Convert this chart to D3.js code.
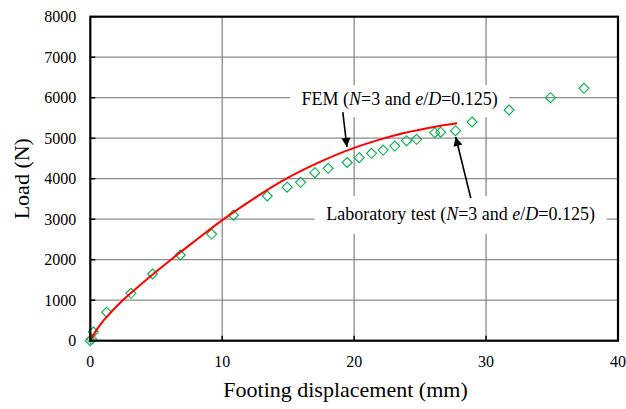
<!DOCTYPE html>
<meta charset="utf-8">
<style>
body {
  margin: 0;
  background: #fff;
  font-family: "Liberation Serif", "Times New Roman", serif;
}
.grid line {
  stroke: #8c8c8c;
  stroke-width: 1.3;
}
.tick-label {
  font-size: 16px;
  fill: #000;
}
.title {
  font-size: 22px;
  fill: #000;
}
.note {
  font-size: 18px;
  fill: #000;
}
</style>
<body>
<script src="https://cdn.jsdelivr.net/npm/d3@7"></script>
<script>

var width = 626,
    height = 409;

var margin = {left: 90.3, right: 8, top: 16.7, bottom: 68.3};

// laboratory test (green diamonds), [displacement mm, load N]
var labX = [0, 0.1, 0.23, 1.24, 3.08, 4.72, 6.82, 9.2, 10.85, 13.41, 14.92, 15.94, 17.02, 18.03, 19.47,
            20.38, 21.32, 22.2, 23.08, 23.97, 24.73, 26.11, 26.55, 27.68, 28.94, 31.74, 34.88, 37.42];
var labY = [0, 40, 215, 700, 1170, 1647, 2116, 2634, 3100, 3573, 3790, 3910, 4148, 4256, 4400,
            4518, 4627, 4708, 4807, 4938, 4973, 5136, 5150, 5185, 5400, 5696, 6000, 6232];

// FEM curve (red line)
var femX = [0, 0.4, 0.83, 1.5, 2.35, 3.06, 4.75, 6.3, 8, 9.93, 12.4, 14.85, 17.25, 20, 22, 23.7, 26.24, 27.8];
var femY = [0, 230, 430, 680, 963, 1170, 1640, 2050, 2480, 2960, 3510, 4000, 4390, 4760, 4970, 5120, 5290, 5370];

var xTicks = [0, 10, 20, 30, 40];
var yTicks = [0, 1000, 2000, 3000, 4000, 5000, 6000, 7000, 8000];

var xTitle = "Footing displacement (mm)",
    yTitle = "Load (N)";

var x = d3.scaleLinear().domain([0, 40]).range([margin.left, width - margin.right]);
var y = d3.scaleLinear().domain([0, 8000]).range([height - margin.bottom, margin.top]);

var svg = d3.select("body").append("svg")
    .attr("width", width)
    .attr("height", height);

var defs = svg.append("defs");
defs.append("marker")
    .attr("id", "head")
    .attr("viewBox", "0 0 10 10")
    .attr("refX", 10).attr("refY", 5)
    .attr("markerWidth", 11).attr("markerHeight", 9)
    .attr("markerUnits", "userSpaceOnUse")
    .attr("orient", "auto")
  .append("path")
    .attr("d", "M0,0L10,5L0,10Z")
    .attr("fill", "#000");

// grid
var grid = svg.append("g").attr("class", "grid");
grid.selectAll(".gx").data(xTicks.slice(1, -1)).enter().append("line")
    .attr("x1", x).attr("x2", x)
    .attr("y1", y(8000)).attr("y2", y(0));
grid.selectAll(".gy").data(yTicks.slice(1, -1)).enter().append("line")
    .attr("x1", x(0)).attr("x2", x(40))
    .attr("y1", y).attr("y2", y);

// inner ticks
var ticks = svg.append("g").attr("stroke", "#000").attr("stroke-width", 1.5);
ticks.selectAll(".tx").data(xTicks).enter().append("line")
    .attr("x1", x).attr("x2", x)
    .attr("y1", y(0)).attr("y2", y(0) - 5);
ticks.selectAll(".ty").data(yTicks).enter().append("line")
    .attr("x1", x(0)).attr("x2", x(0) + 5)
    .attr("y1", y).attr("y2", y);

// label boxes (white) that hide the grid
function note(cx, by, w, h, parts) {
  var g = svg.append("g");
  g.append("rect")
      .attr("x", cx - w / 2).attr("y", by - h * 0.62)
      .attr("width", w).attr("height", h)
      .attr("fill", "#fff");
  var t = g.append("text").attr("class", "note")
      .attr("x", cx).attr("y", by)
      .attr("text-anchor", "middle");
  parts.forEach(function(p) {
    t.append("tspan").text(p[0]).style("font-style", p[1] ? "italic" : "normal");
  });
}

var labelParts = [["(", 0], ["N", 1], ["=3 and ", 0], ["e", 1], ["/", 0], ["D", 1], ["=0.125)", 0]];
note(x(23.45), y(5820), 219, 32, [["FEM ", 0]].concat(labelParts));
note(x(28.07), y(2990), 292, 38, [["Laboratory test ", 0]].concat(labelParts));

// lab points
svg.append("g").selectAll("path")
    .data(labX.map(function(d, i) { return [d, labY[i]]; }))
  .enter().append("path")
    .attr("transform", function(d) { return "translate(" + x(d[0]) + "," + y(d[1]) + ")"; })
    .attr("d", "M0,-5L5,0L0,5L-5,0Z")
    .attr("fill", "none")
    .attr("stroke", "#00b050")
    .attr("stroke-width", 1.1);

// FEM curve
var line = d3.line()
    .x(function(d) { return x(d[0]); })
    .y(function(d) { return y(d[1]); })
    .curve(d3.curveMonotoneX);

svg.append("path")
    .datum(femX.map(function(d, i) { return [d, femY[i]]; }))
    .attr("d", line)
    .attr("fill", "none")
    .attr("stroke", "#ff0000")
    .attr("stroke-width", 2);

// arrows
var arrows = [[[19.14, 5645], [19.45, 4782]], [[28.84, 3523], [27.7, 5030]]];
svg.append("g").selectAll("line").data(arrows).enter().append("line")
    .attr("x1", function(d) { return x(d[0][0]); })
    .attr("y1", function(d) { return y(d[0][1]); })
    .attr("x2", function(d) { return x(d[1][0]); })
    .attr("y2", function(d) { return y(d[1][1]); })
    .attr("stroke", "#000")
    .attr("stroke-width", 1.6)
    .attr("marker-end", "url(#head)");

// frame
svg.append("rect")
    .attr("x", x(0)).attr("y", y(8000))
    .attr("width", x(40) - x(0)).attr("height", y(0) - y(8000))
    .attr("fill", "none")
    .attr("stroke", "#000")
    .attr("stroke-width", 2.2);

// tick labels
svg.append("g").selectAll("text").data(xTicks).enter().append("text")
    .attr("class", "tick-label")
    .attr("x", x).attr("y", y(0) + 26)
    .attr("text-anchor", "middle")
    .text(function(d) { return d; });
svg.append("g").selectAll("text").data(yTicks).enter().append("text")
    .attr("class", "tick-label")
    .attr("x", x(0) - 14).attr("y", y)
    .attr("dy", "0.35em")
    .attr("text-anchor", "end")
    .text(function(d) { return d; });

// axis titles
svg.append("text").attr("class", "title")
    .attr("x", 345.5).attr("y", 397)
    .attr("text-anchor", "middle")
    .text(xTitle);
svg.append("text").attr("class", "title")
    .attr("transform", "translate(29," + ((y(0) + y(8000)) / 2) + ") rotate(-90)")
    .attr("text-anchor", "middle")
    .text(yTitle);

</script>
